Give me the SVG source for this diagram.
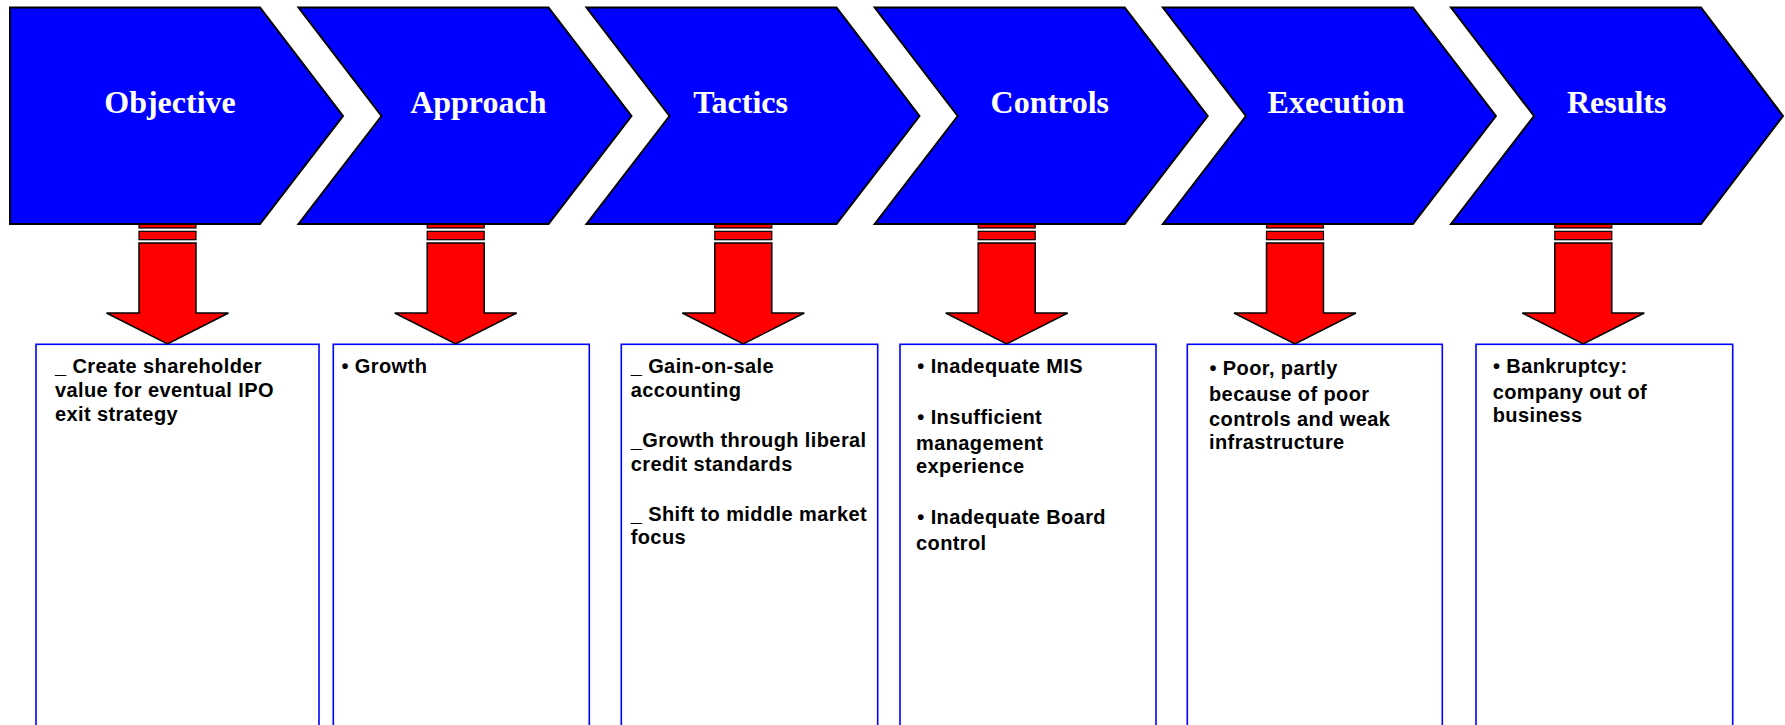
<svg xmlns="http://www.w3.org/2000/svg" width="1785" height="725" viewBox="0 0 1785 725">
<style>
.chev{fill:#0000FF;stroke:#000;stroke-width:2;stroke-linejoin:miter}
.title{font-family:"Liberation Serif","Times New Roman",serif;font-weight:bold;font-size:32px;fill:#fff;text-anchor:middle}
.stripe{fill:#FF0000;stroke:#000;stroke-width:1.2}
.arrow{fill:#FF0000;stroke:#000;stroke-width:1.5;stroke-linejoin:miter}
.box{fill:#fff;stroke:#0000FF;stroke-width:1.6}
.txt{font-family:"Liberation Sans",Arial,sans-serif;font-weight:bold;font-size:20px;fill:#000;letter-spacing:0.4px}
</style>
<defs>
<g id="downArrow">
<rect class="stripe" x="-28.5" y="218" width="57" height="10"/>
<rect class="stripe" x="-28.5" y="231.3" width="57" height="8.4"/>
<polygon class="arrow" points="-28.5,243 28.5,243 28.5,313 61,313 0,344 -61,313 -28.5,313"/>
</g>
</defs>
<g id="boxes">
<g id="box1"><rect class="box" x="36" y="344.3" width="283" height="400"/>
<text class="txt" x="55" y="373">_ Create shareholder</text>
<text class="txt" x="55" y="397.3">value for eventual IPO</text>
<text class="txt" x="55" y="420.7">exit strategy</text></g>
<g id="box2"><rect class="box" x="333.3" y="344.3" width="256" height="400"/>
<text class="txt" x="341.5" y="372.7">• Growth</text></g>
<g id="box3"><rect class="box" x="621.3" y="344.3" width="256.4" height="400"/>
<text class="txt" x="630.7" y="372.7">_ Gain-on-sale</text>
<text class="txt" x="630.7" y="397">accounting</text>
<text class="txt" x="630.7" y="446.7">_Growth through liberal</text>
<text class="txt" x="630.7" y="470.7">credit standards</text>
<text class="txt" x="630.7" y="520.7">_ Shift to middle market</text>
<text class="txt" x="630.7" y="543.5">focus</text></g>
<g id="box4"><rect class="box" x="900" y="344.3" width="256" height="400"/>
<text class="txt" x="917.3" y="372.7">• Inadequate MIS</text>
<text class="txt" x="917.3" y="424">• Insufficient</text>
<text class="txt" x="916" y="450">management</text>
<text class="txt" x="916" y="473.3">experience</text>
<text class="txt" x="917.3" y="524">• Inadequate Board</text>
<text class="txt" x="916" y="550">control</text></g>
<g id="box5"><rect class="box" x="1187.3" y="344.3" width="255" height="400"/>
<text class="txt" x="1209.5" y="375">• Poor, partly</text>
<text class="txt" x="1209" y="400.5">because of poor</text>
<text class="txt" x="1209" y="425.5">controls and weak</text>
<text class="txt" x="1209" y="449">infrastructure</text></g>
<g id="box6"><rect class="box" x="1476" y="344.3" width="256.7" height="400"/>
<text class="txt" x="1493" y="372.7">• Bankruptcy:</text>
<text class="txt" x="1492.7" y="399">company out of</text>
<text class="txt" x="1492.7" y="421.7">business</text></g>
</g>
<g id="connectors">
<use href="#downArrow" x="167.5" y="0"/>
<use href="#downArrow" x="455.7" y="0"/>
<use href="#downArrow" x="743.3" y="0"/>
<use href="#downArrow" x="1006.7" y="0"/>
<use href="#downArrow" x="1295" y="0"/>
<use href="#downArrow" x="1583.3" y="0"/>
</g>
<g id="chevrons">
<g id="objective"><polygon class="chev" points="10,7.5 260,7.5 343,116 260,224 10,224"/>
<text class="title" x="170" y="113.3">Objective</text></g>
<g id="approach"><polygon class="chev" points="298.5,7.5 548.5,7.5 631.5,116 548.5,224 298.5,224 381.5,116"/>
<text class="title" x="478.3" y="113.3">Approach</text></g>
<g id="tactics"><polygon class="chev" points="586.5,7.5 836.5,7.5 919.5,116 836.5,224 586.5,224 669.5,116"/>
<text class="title" x="740.6" y="113.3">Tactics</text></g>
<g id="controls"><polygon class="chev" points="874.7,7.5 1124.7,7.5 1207.7,116 1124.7,224 874.7,224 957.7,116"/>
<text class="title" x="1049.8" y="113.3">Controls</text></g>
<g id="execution"><polygon class="chev" points="1162.9,7.5 1412.9,7.5 1495.9,116 1412.9,224 1162.9,224 1245.9,116"/>
<text class="title" x="1336" y="113.3">Execution</text></g>
<g id="results"><polygon class="chev" points="1451,7.5 1701,7.5 1783,116 1701,224 1451,224 1534,116"/>
<text class="title" x="1616.7" y="113.3">Results</text></g>
</g>
</svg>
